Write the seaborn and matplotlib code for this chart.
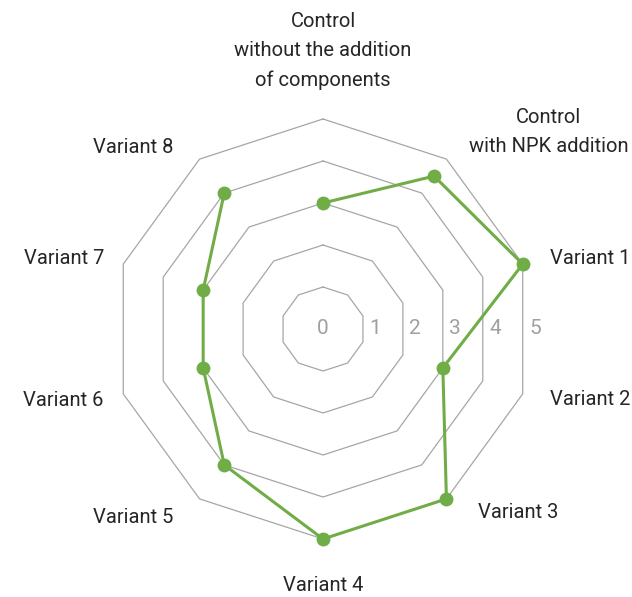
import numpy as np
import pandas as pd
import matplotlib
matplotlib.use("Agg")
import matplotlib.pyplot as plt
import seaborn as sns

# ---------- Data ----------
categories = [
    "Control\nwithout the addition\nof components",
    "Control\nwith NPK addition",
    "Variant 1", "Variant 2", "Variant 3", "Variant 4",
    "Variant 5", "Variant 6", "Variant 7", "Variant 8",
]
values = [3, 4.5, 5, 3, 5, 5, 4, 3, 3, 4]
levels = [1, 2, 3, 4, 5]
level_labels = ["0", "1", "2", "3", "4", "5"]

# label placement (centre of each text box: radius, angle in degrees from top)
label_r = [6.62, 7.14, 6.58, 6.58, 6.37, 6.1, 6.38, 6.42, 6.39, 6.26]
label_deg = [0, 48.9, 75.3, 104.7, 133.2, 180, 225.2, 254.7, 285.3, 313.8]

GREEN = "#70AD47"
GRID = "#A6A6A6"

sns.set_style("white")
plt.rcParams['font.family'] = ['Roboto', 'DejaVu Sans']

n = len(categories)
theta = np.linspace(0, 2 * np.pi, n, endpoint=False)
theta_closed = np.append(theta, theta[0])

df = pd.DataFrame({"theta": theta_closed, "value": values + values[:1]})

fig = plt.figure(figsize=(6.32, 5.97), dpi=100)
ax = fig.add_axes([113 / 632, 58 / 597, 420 / 632, 420 / 597], projection="polar")
ax.set_theta_offset(np.pi / 2)
ax.set_theta_direction(-1)
ax.set_ylim(0, 5)
ax.grid(False)
ax.spines["polar"].set_visible(False)
ax.set_xticks([])
ax.set_yticks([])

# polygon grid rings
for lv in levels:
    ax.plot(theta_closed, [lv] * (n + 1), color=GRID, lw=0.9, zorder=1, clip_on=False)

# data series
sns.lineplot(data=df, x="theta", y="value", sort=False, ax=ax, color=GREEN,
             linewidth=2.2, marker="o", markersize=10, markeredgewidth=0,
             zorder=3, clip_on=False)
ax.set_xlabel("")
ax.set_ylabel("")

# radial value labels (to the right)
mid = np.cos(np.pi / n)
for i, lab in enumerate(level_labels):
    r = 0 if i == 0 else i * mid + 0.29
    ax.text(np.pi / 2, r, lab, color="#A0A0A0", fontsize=15,
            ha="center", va="center")

# category labels
for lab, r, d in zip(categories, label_r, label_deg):
    ax.text(np.deg2rad(d), r, lab, color="#262626", fontsize=14.5,
            ha="center", va="center", multialignment="center",
            linespacing=1.7)

fig.savefig("out.png", dpi=100)
